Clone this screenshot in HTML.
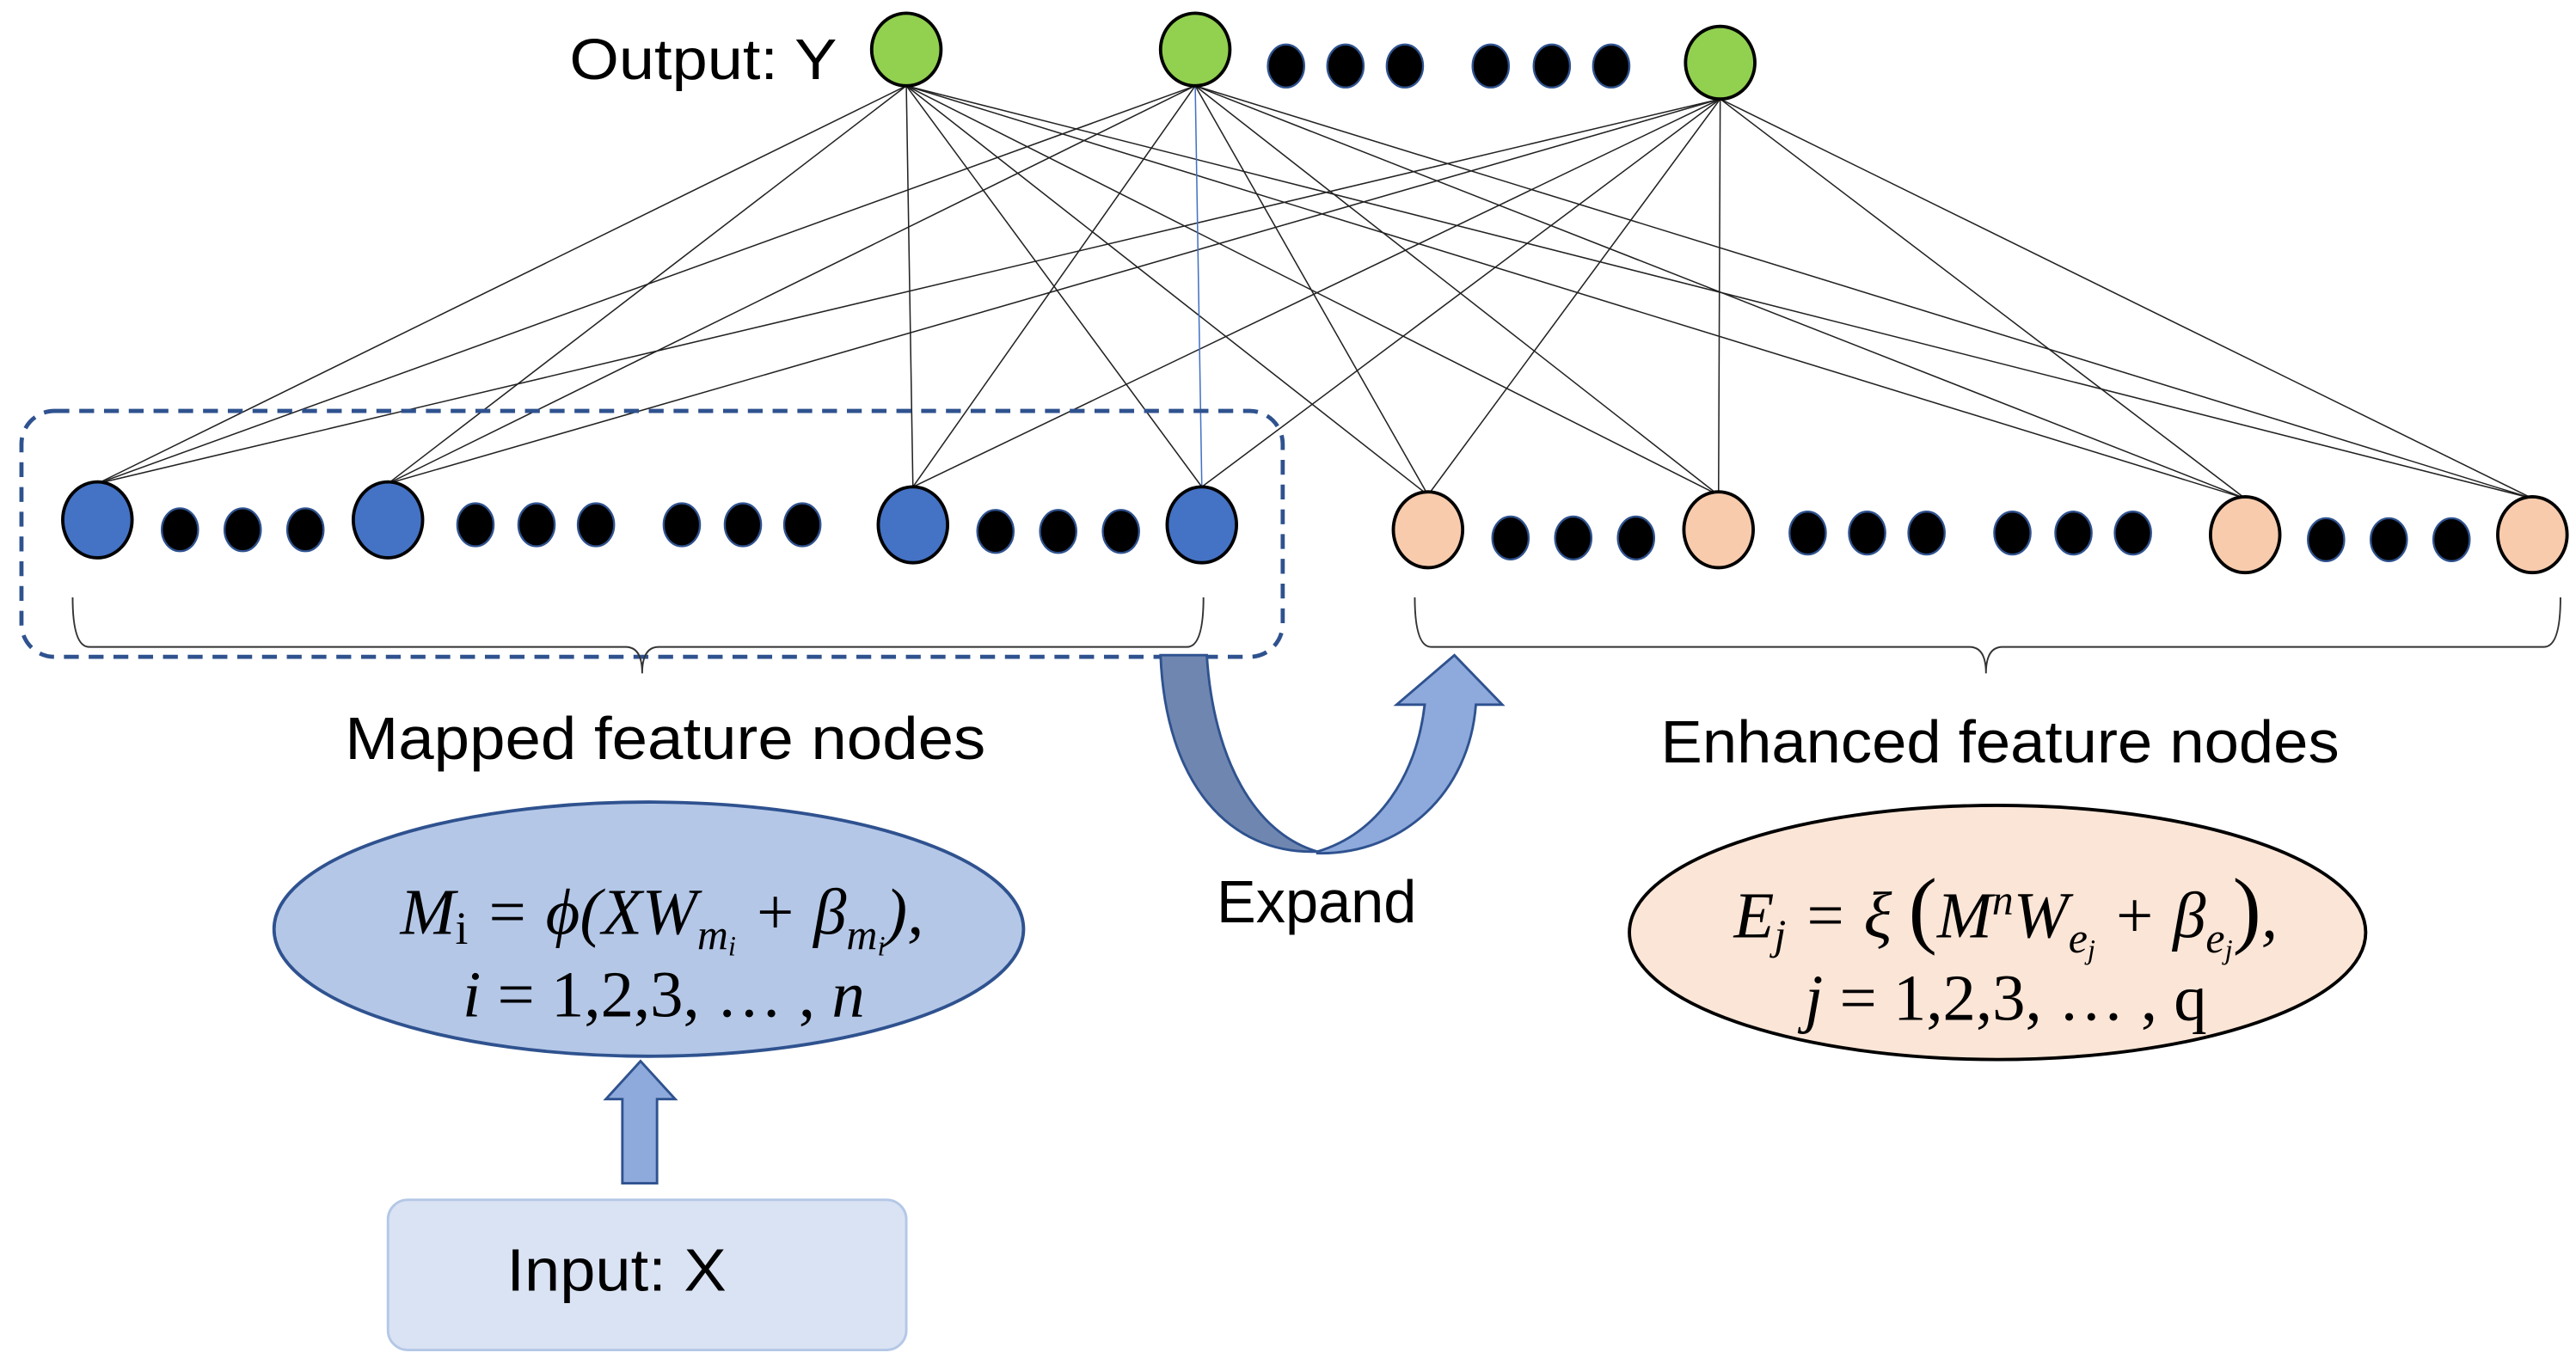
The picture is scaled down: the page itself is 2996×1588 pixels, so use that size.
<!DOCTYPE html>
<html><head><meta charset="utf-8"><style>
html,body{margin:0;padding:0;background:#fff;}
svg{display:block;}
text{font-family:"Liberation Sans",sans-serif;}
.m{font-family:"Liberation Serif",serif;font-style:italic;font-size:40px;}
</style></head><body>
<svg width="2996" height="1588" viewBox="0 0 1560.4 827.1" preserveAspectRatio="none" xmlns="http://www.w3.org/2000/svg">
<g stroke="#222" stroke-width="0.8" fill="none">
<line x1="549" y1="52" x2="59" y2="293"/><line x1="549" y1="52" x2="235" y2="293"/><line x1="549" y1="52" x2="553" y2="295"/><line x1="549" y1="52" x2="728" y2="295"/>
<line x1="549" y1="52" x2="865" y2="300"/><line x1="549" y1="52" x2="1041" y2="300"/><line x1="549" y1="52" x2="1360" y2="302"/><line x1="549" y1="52" x2="1534" y2="302"/>
<line x1="724" y1="52" x2="59" y2="293"/><line x1="724" y1="52" x2="235" y2="293"/><line x1="724" y1="52" x2="553" y2="295"/>
<line x1="724" y1="52" x2="865" y2="300"/><line x1="724" y1="52" x2="1041" y2="300"/><line x1="724" y1="52" x2="1360" y2="302"/><line x1="724" y1="52" x2="1534" y2="302"/>
<line x1="1042" y1="60" x2="59" y2="293"/><line x1="1042" y1="60" x2="235" y2="293"/><line x1="1042" y1="60" x2="553" y2="295"/><line x1="1042" y1="60" x2="728" y2="295"/>
<line x1="1042" y1="60" x2="865" y2="300"/><line x1="1042" y1="60" x2="1041" y2="300"/><line x1="1042" y1="60" x2="1360" y2="302"/><line x1="1042" y1="60" x2="1534" y2="302"/>
</g>
<line x1="724" y1="52" x2="728" y2="295" stroke="#4472C4" stroke-width="0.8"/>

<rect x="13" y="249" width="764" height="149" rx="20" fill="none" stroke="#2F528F" stroke-width="2.5" stroke-dasharray="9,6"/>

<g stroke="#000" stroke-width="2" fill="#92D050">
<ellipse cx="549" cy="30" rx="21" ry="22"/><ellipse cx="724" cy="30" rx="21" ry="22"/><ellipse cx="1042" cy="38" rx="21" ry="22"/>
</g>
<g fill="#000" stroke="#2F528F" stroke-width="1.2">
<ellipse cx="779" cy="40" rx="11" ry="13"/><ellipse cx="815" cy="40" rx="11" ry="13"/><ellipse cx="851" cy="40" rx="11" ry="13"/>
<ellipse cx="903" cy="40" rx="11" ry="13"/><ellipse cx="940" cy="40" rx="11" ry="13"/><ellipse cx="976" cy="40" rx="11" ry="13"/>
</g>
<text x="345" y="48" font-size="35" textLength="162" lengthAdjust="spacingAndGlyphs">Output: Y</text>

<g stroke="#000" stroke-width="2" fill="#4472C4">
<ellipse cx="59" cy="315" rx="21" ry="23"/><ellipse cx="235" cy="315" rx="21" ry="23"/><ellipse cx="553" cy="318" rx="21" ry="23"/><ellipse cx="728" cy="318" rx="21" ry="23"/>
</g>
<g fill="#000" stroke="#2F528F" stroke-width="1.2">
<ellipse cx="109" cy="321" rx="11" ry="13"/><ellipse cx="147" cy="321" rx="11" ry="13"/><ellipse cx="185" cy="321" rx="11" ry="13"/>
<ellipse cx="288" cy="318" rx="11" ry="13"/><ellipse cx="325" cy="318" rx="11" ry="13"/><ellipse cx="361" cy="318" rx="11" ry="13"/>
<ellipse cx="413" cy="318" rx="11" ry="13"/><ellipse cx="450" cy="318" rx="11" ry="13"/><ellipse cx="486" cy="318" rx="11" ry="13"/>
<ellipse cx="603" cy="322" rx="11" ry="13"/><ellipse cx="641" cy="322" rx="11" ry="13"/><ellipse cx="679" cy="322" rx="11" ry="13"/>
</g>
<g stroke="#000" stroke-width="2" fill="#F8CBAD">
<ellipse cx="865" cy="321" rx="21" ry="23"/><ellipse cx="1041" cy="321" rx="21" ry="23"/><ellipse cx="1360" cy="324" rx="21" ry="23"/><ellipse cx="1534" cy="324" rx="21" ry="23"/>
</g>
<g fill="#000" stroke="#2F528F" stroke-width="1.2">
<ellipse cx="915" cy="326" rx="11" ry="13"/><ellipse cx="953" cy="326" rx="11" ry="13"/><ellipse cx="991" cy="326" rx="11" ry="13"/>
<ellipse cx="1095" cy="323" rx="11" ry="13"/><ellipse cx="1131" cy="323" rx="11" ry="13"/><ellipse cx="1167" cy="323" rx="11" ry="13"/>
<ellipse cx="1219" cy="323" rx="11" ry="13"/><ellipse cx="1256" cy="323" rx="11" ry="13"/><ellipse cx="1292" cy="323" rx="11" ry="13"/>
<ellipse cx="1409" cy="327" rx="11" ry="13"/><ellipse cx="1447" cy="327" rx="11" ry="13"/><ellipse cx="1485" cy="327" rx="11" ry="13"/>
</g>

<g fill="none" stroke="#333" stroke-width="1">
<path d="M44,362 Q44,392 54,392 L379,392 Q389,392 389,408 Q389,392 399,392 L719,392 Q729,392 729,362"/>
<path d="M857,362 Q857,392 867,392 L1193,392 Q1203,392 1203,408 Q1203,392 1213,392 L1541,392 Q1551,392 1551,362"/>
</g>
<text x="209" y="460" font-size="36" textLength="388" lengthAdjust="spacingAndGlyphs">Mapped feature nodes</text>
<text x="1006" y="462" font-size="36" textLength="411" lengthAdjust="spacingAndGlyphs">Enhanced feature nodes</text>

<path d="M703,397 L731,397 C735,460 760,505 798,516 C745,518 706,475 703,397 Z" fill="#6F87B0" stroke="#2F528F" stroke-width="1.5"/>
<path d="M798,516 C835,505 858,470 863,427 L846,427 L881,397 L910,427 L894,427 C890,480 850,518 798,517 Z" fill="#8EA9DB" stroke="#2F528F" stroke-width="1.5"/>
<text x="737" y="559" font-size="36" textLength="121" lengthAdjust="spacingAndGlyphs">Expand</text>

<ellipse cx="393" cy="563" rx="227" ry="77" fill="#B4C7E7" stroke="#2F528F" stroke-width="2"/>
<text class="m" x="401" y="566" text-anchor="middle">M<tspan font-style="normal" font-size="28" dy="6">i</tspan><tspan dy="-6"> = ϕ(XW</tspan><tspan font-size="26" dy="9">m</tspan><tspan font-size="17" dy="4">i</tspan><tspan dy="-13"> + β</tspan><tspan font-size="26" dy="9">m</tspan><tspan font-size="17" dy="4">i</tspan><tspan dy="-13">),</tspan></text>
<text class="m" x="402" y="616" text-anchor="middle">i <tspan font-style="normal">= 1,2,3, … ,</tspan> n</text>

<ellipse cx="1210" cy="565" rx="223" ry="77" fill="#FBE5D6" stroke="#000" stroke-width="2"/>
<text class="m" x="1215" y="568" text-anchor="middle">E<tspan font-size="26" dy="7">j</tspan><tspan dy="-7"> = ξ </tspan><tspan font-style="normal" font-size="52">(</tspan>M<tspan font-size="26" dy="-14">n</tspan><tspan dy="14">W</tspan><tspan font-size="26" dy="9">e</tspan><tspan font-size="17" dy="4">j</tspan><tspan dy="-13"> + β</tspan><tspan font-size="26" dy="9">e</tspan><tspan font-size="17" dy="4">j</tspan><tspan dy="-13" font-style="normal" font-size="52">)</tspan><tspan>,</tspan></text>
<text class="m" x="1215" y="618" text-anchor="middle">j <tspan font-style="normal">= 1,2,3, … , q</tspan></text>

<path d="M377,717 L377,666 L367,666 L388,643 L409,666 L398,666 L398,717 Z" fill="#8EA9DB" stroke="#2F528F" stroke-width="1.5"/>
<rect x="235" y="727" width="314" height="91" rx="12" fill="#DAE3F3" stroke="#B4C7E7" stroke-width="1.5"/>
<text x="307" y="782" font-size="36" textLength="133" lengthAdjust="spacingAndGlyphs">Input: X</text>
</svg>
</body></html>
